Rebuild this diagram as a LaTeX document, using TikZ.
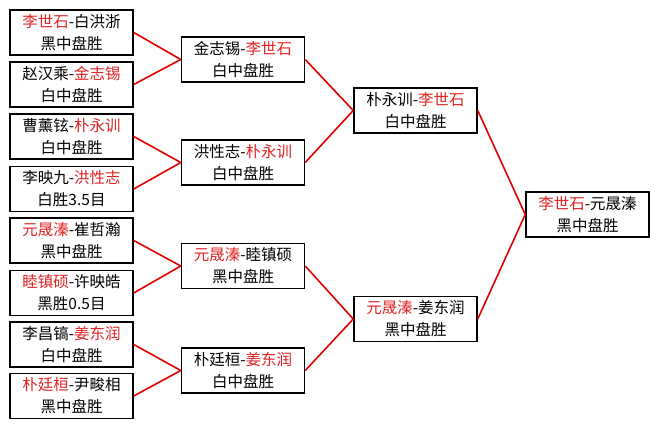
\documentclass[tikz,border=0pt]{standalone}
\usepackage{fontspec}
\setmainfont{Noto Sans CJK SC}
\definecolor{winred}{RGB}{225,35,35}
\definecolor{linered}{RGB}{228,0,0}
\newcommand{\W}[1]{\textcolor{winred}{#1}}
\tikzset{
  box/.style={draw=black, line width=1.5pt, minimum width=123pt, minimum height=45pt,
    inner sep=0pt, align=center, fill=white, font=\fontsize{15.5}{22}\selectfont},
  link/.style={draw=linered, line width=1.6pt}
}
\begin{document}
\begin{tikzpicture}[x=1pt,y=-1pt]
\useasboundingbox[fill=white] (0,0) rectangle (659,429);
% round 1
\node[box] (a1) at (71.5,32.5) {\W{李世石}-白洪浙\\黑中盘胜};
\node[box] (a2) at (71.5,84.5) {赵汉乘-\W{金志锡}\\白中盘胜};
\node[box] (a3) at (71.5,136.5) {曹薰铉-\W{朴永训}\\白中盘胜};
\node[box] (a4) at (71.5,189) {李映九-\W{洪性志}\\白胜3.5目};
\node[box] (a5) at (71.5,240.5) {\W{元晟溱}-崔哲瀚\\黑中盘胜};
\node[box] (a6) at (71.5,293) {\W{睦镇硕}-许映皓\\黑胜0.5目};
\node[box] (a7) at (71.5,344.5) {李昌镐-\W{姜东润}\\白中盘胜};
\node[box] (a8) at (71.5,396) {\W{朴廷桓}-尹畯相\\黑中盘胜};
% round 2
\node[box] (b1) at (243,59.5) {金志锡-\W{李世石}\\白中盘胜};
\node[box] (b2) at (243,162.5) {洪性志-\W{朴永训}\\白中盘胜};
\node[box] (b3) at (243,266) {\W{元晟溱}-睦镇硕\\黑中盘胜};
\node[box] (b4) at (243,370.5) {朴廷桓-\W{姜东润}\\白中盘胜};
% round 3
\node[box] (c1) at (415.5,110.5) {朴永训-\W{李世石}\\白中盘胜};
\node[box] (c2) at (415.5,319) {\W{元晟溱}-姜东润\\黑中盘胜};
% final
\node[box] (d1) at (587.5,214.5) {\W{李世石}-元晟溱\\黑中盘胜};
% links
\draw[link] (a1.east) -- (b1.west);
\draw[link] (a2.east) -- (b1.west);
\draw[link] (a3.east) -- (b2.west);
\draw[link] (a4.east) -- (b2.west);
\draw[link] (a5.east) -- (b3.west);
\draw[link] (a6.east) -- (b3.west);
\draw[link] (a7.east) -- (b4.west);
\draw[link] (a8.east) -- (b4.west);
\draw[link] (b1.east) -- (c1.west);
\draw[link] (b2.east) -- (c1.west);
\draw[link] (b3.east) -- (c2.west);
\draw[link] (b4.east) -- (c2.west);
\draw[link] (c1.east) -- (d1.west);
\draw[link] (c2.east) -- (d1.west);
\end{tikzpicture}
\end{document}
